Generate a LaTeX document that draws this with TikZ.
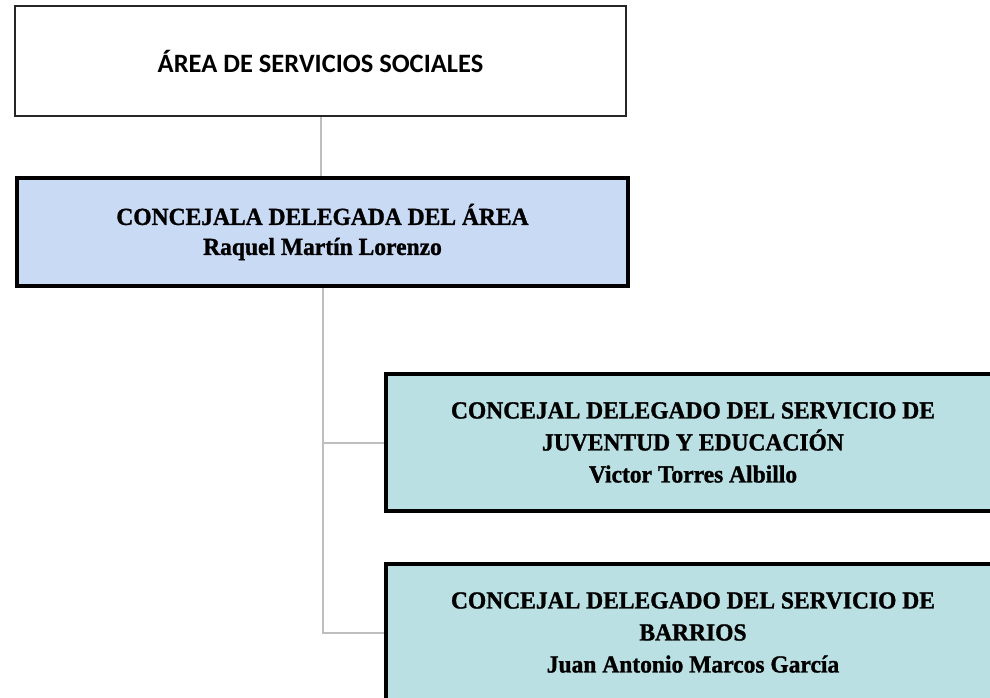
\documentclass[tikz,border=0pt]{standalone}
\usepackage{fontspec}
\usepackage{xcolor}
\usepackage{tikz}
\usetikzlibrary{positioning}
\newfontfamily\calfont{Carlito}
\newfontfamily\camfont[FakeStretch=0.96,FakeBold=1.2]{Liberation Serif}
\definecolor{areablue}{RGB}{201,218,245}
\definecolor{servteal}{RGB}{186,224,227}
\definecolor{linkgray}{RGB}{190,190,190}

\begin{document}
\begin{tikzpicture}[x=1pt,y=-1pt,
  head/.style={draw=black!85,line width=2pt,minimum width=611pt,minimum height=110pt,
    font=\calfont\bfseries\fontsize{26.5}{30}\selectfont,align=center},
  boss/.style={draw=black,fill=areablue,line width=4pt,minimum width=611pt,minimum height=108pt,
    font=\camfont\bfseries\fontsize{24.5}{30}\selectfont,align=center},
  serv/.style={draw=black,fill=servteal,line width=4pt,minimum width=614pt,minimum height=137pt,
    font=\camfont\bfseries\fontsize{24.5}{32}\selectfont,align=center},
  link/.style={draw=linkgray,line width=2pt}]
\useasboundingbox (0,0) rectangle (990,697);
\clip (0,0) rectangle (990,697);
  \node[head] (area) at (320.5,61) {ÁREA DE SERVICIOS SOCIALES};
  \node[boss] (conc) at (322.5,232) {CONCEJALA DELEGADA DEL ÁREA\\Raquel Martín Lorenzo};
  \node[serv] (juv) at (693,442.5) {CONCEJAL DELEGADO DEL SERVICIO DE\\JUVENTUD Y EDUCACIÓN\\Victor Torres Albillo};
  \node[serv] (barr) at (693,632.5) {CONCEJAL DELEGADO DEL SERVICIO DE\\BARRIOS\\Juan Antonio Marcos García};
  % conectores
  \draw[link] (area.south) -- (area.south |- conc.north);
  \draw[link] (conc.south) |- (juv.west);
  \draw[link] (conc.south) |- (barr.west);
\end{tikzpicture}
\end{document}
